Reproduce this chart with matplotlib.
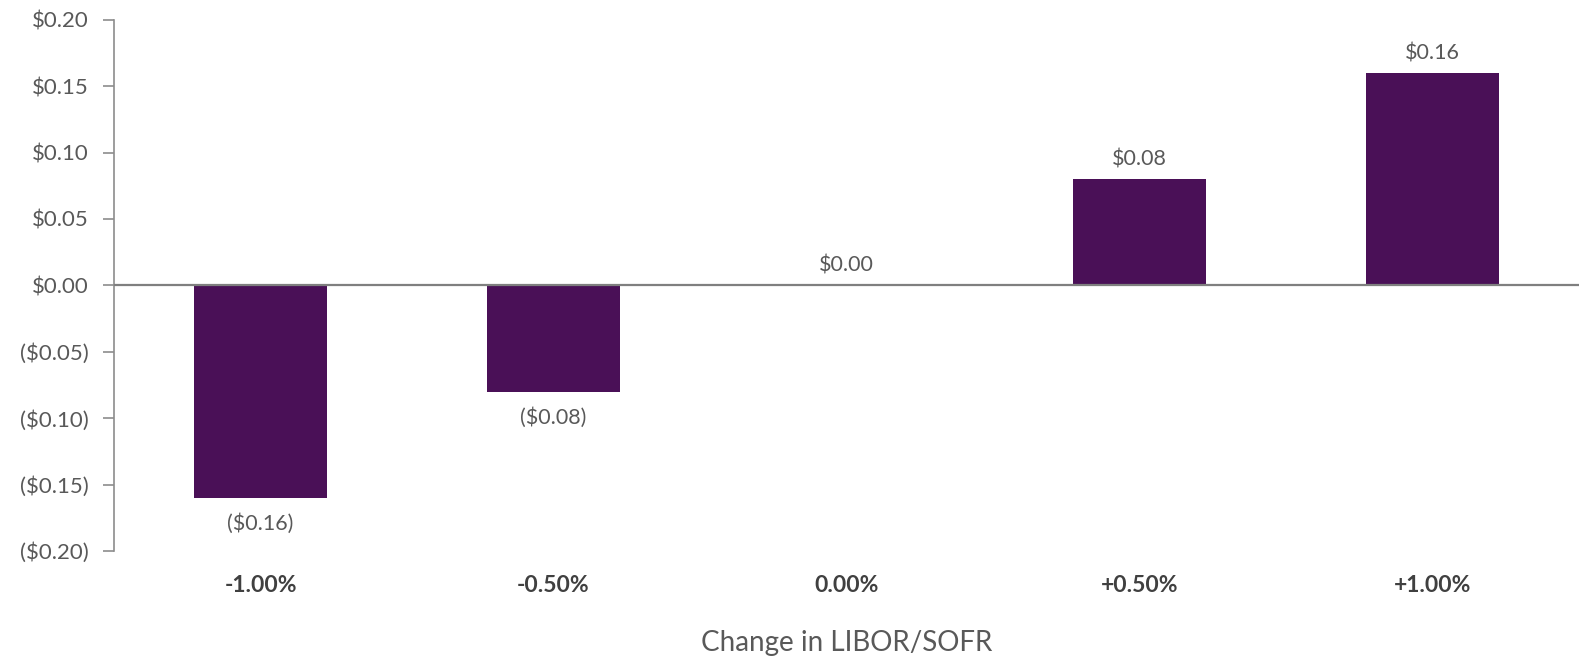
import matplotlib.pyplot as plt
from matplotlib.ticker import FuncFormatter

# data
categories = ["-1.00%", "-0.50%", "0.00%", "+0.50%", "+1.00%"]
values = [-0.16, -0.08, 0.00, 0.08, 0.16]
y_ticks = [-0.20, -0.15, -0.10, -0.05, 0.00, 0.05, 0.10, 0.15, 0.20]
x_title = "Change in LIBOR/SOFR"

BAR_COLOR = "#4A1057"
TEXT_COLOR = "#595959"
AXIS_COLOR = "#8C8C8C"

plt.rcParams["font.family"] = ["Lato", "DejaVu Sans"]


def money(v, _pos=None):
    if round(v, 4) < 0:
        return f"(${abs(v):.2f})"
    return f"${abs(v):.2f}"


fig = plt.figure(figsize=(15.79, 6.59), dpi=100)
ax = fig.add_axes([0.0722, 0.164, 0.9278, 0.806])

x = list(range(len(categories)))
ax.bar(x, values, width=0.457, color=BAR_COLOR, zorder=2)

# value labels
for xi, v in zip(x, values):
    if v < 0:
        ax.annotate(money(v), (xi, v), xytext=(0, -11), textcoords="offset points",
                    ha="center", va="top", fontsize=15.5, color=TEXT_COLOR)
    else:
        ax.annotate(money(v), (xi, v), xytext=(0, 7), textcoords="offset points",
                    ha="center", va="bottom", fontsize=15.5, color=TEXT_COLOR)

ax.set_xlim(-0.5, len(categories) - 0.5)
ax.set_ylim(-0.20, 0.20)
ax.set_yticks(y_ticks)
ax.yaxis.set_major_formatter(FuncFormatter(money))
ax.axhline(0, color="#7F7F7F", linewidth=1.6, zorder=3)

ax.set_xticks(x)
ax.set_xticklabels(categories, fontweight="bold")
ax.tick_params(axis="x", length=0, pad=17, labelsize=16.5, labelcolor="#404040")
ax.tick_params(axis="y", length=8, width=1.2, color=AXIS_COLOR, labelsize=16,
               labelcolor=TEXT_COLOR, pad=10)

for side in ("top", "right", "bottom"):
    ax.spines[side].set_visible(False)
ax.spines["left"].set_color(AXIS_COLOR)
ax.spines["left"].set_linewidth(1.2)

ax.set_xlabel(x_title, fontsize=20, color=TEXT_COLOR, labelpad=25)

fig.savefig("out.png", dpi=100)
